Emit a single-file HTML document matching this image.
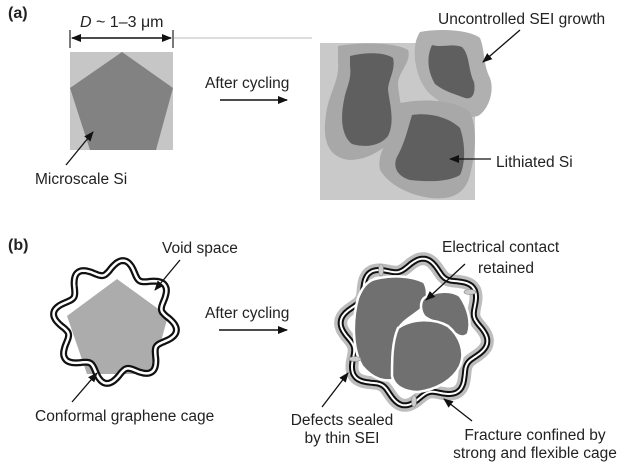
<!DOCTYPE html>
<html><head><meta charset="utf-8"><style>
html,body{margin:0;padding:0;background:#fff;}
svg{display:block;font-family:"Liberation Sans","DejaVu Sans",sans-serif;}
text{fill:#222;font-size:15.5px;}
</style></head><body>
<svg id="s" width="631" height="470" viewBox="0 0 631 470" xmlns="http://www.w3.org/2000/svg">
<defs>
<marker id="ah" markerWidth="10" markerHeight="8" refX="9" refY="4" orient="auto" markerUnits="userSpaceOnUse">
<path d="M0,0 L10,4 L0,8 z" fill="#111"/></marker>
<marker id="ahs" markerWidth="10" markerHeight="8" refX="1" refY="4" orient="auto" markerUnits="userSpaceOnUse">
<path d="M10,0 L0,4 L10,8 z" fill="#111"/></marker>
</defs>
<!-- (a) -->
<text x="8" y="18" style="font-weight:bold;font-size:16px">(a)</text>
<text x="80" y="27" style="font-size:16px"><tspan font-style="italic">D</tspan> ~ 1–3 μm</text>
<line x1="70" y1="30" x2="70" y2="48" stroke="#222" stroke-width="1.2"/>
<line x1="173" y1="30" x2="173" y2="48" stroke="#222" stroke-width="1.2"/>
<line x1="72" y1="38" x2="171" y2="38" stroke="#111" stroke-width="1.5" marker-start="url(#ahs)" marker-end="url(#ah)"/>
<line x1="174" y1="38" x2="312" y2="38" stroke="#bbb" stroke-width="1"/>
<rect x="70" y="52" width="103" height="98" fill="#c6c6c6"/>
<polygon points="122,52 173,88 156,150 90,150 70,88" fill="#828282"/>
<text x="205" y="88">After cycling</text>
<line x1="220" y1="100" x2="287" y2="100" stroke="#111" stroke-width="1.5" marker-end="url(#ah)"/>
<text x="35" y="184">Microscale Si</text>
<line x1="66" y1="165" x2="93" y2="132" stroke="#111" stroke-width="1.3" marker-end="url(#ah)"/>

<rect x="320" y="43" width="155" height="157" fill="#c9c9c9"/>
<path d="M338,46 C360,42 395,42 408,50 C412,62 398,72 398,84 C398,96 405,110 398,130 C392,145 370,160 350,160 C328,158 322,140 326,115 C328,95 340,80 338,62 Z" fill="#a8a8a8"/>
<path d="M350,56 C365,52 385,52 393,58 C396,70 388,80 388,90 C390,105 395,122 388,136 C380,146 366,148 352,144 C342,136 340,120 344,100 C346,88 352,80 350,66 Z" fill="#5f5f5f"/>
<path d="M420,32 C440,28 470,30 480,38 C485,50 483,65 490,78 C495,92 488,110 478,116 C462,120 450,112 438,100 C425,92 418,80 415,60 C414,46 416,38 420,32 Z" fill="#b0b0b0"/>
<path d="M432,45 C442,48 452,43 462,47 C470,55 468,70 474,82 C476,94 472,100 465,98 C455,94 445,92 435,84 C428,72 426,58 432,45 Z" fill="#5f5f5f"/>
<path d="M400,103 C425,98 455,100 470,112 C478,130 475,155 470,175 C465,195 450,200 430,198 C410,195 390,186 380,170 C376,150 392,140 392,125 C392,112 394,106 400,103 Z" fill="#a8a8a8"/>
<path d="M412,115 C430,112 450,118 460,128 C466,145 465,165 460,175 C448,182 430,182 410,180 C396,176 392,165 398,155 C405,142 408,128 412,115 Z" fill="#5f5f5f"/>
<text x="438" y="24">Uncontrolled SEI growth</text>
<line x1="520" y1="30" x2="483" y2="62" stroke="#111" stroke-width="1.3" marker-end="url(#ah)"/>
<text x="496" y="167">Lithiated Si</text>
<line x1="491" y1="159" x2="450" y2="159" stroke="#111" stroke-width="1.3" marker-end="url(#ah)"/>

<!-- (b) -->
<text x="8" y="250" style="font-weight:bold;font-size:16px">(b)</text>
<polygon points="117,279 168,316 152,374 87,374 67,316" fill="#acacac"/>
<g id="cageL"></g>
<text x="162" y="253">Void space</text>
<line x1="180" y1="260" x2="155" y2="290" stroke="#111" stroke-width="1.3" marker-end="url(#ah)"/>
<text x="205" y="318">After cycling</text>
<line x1="219" y1="330" x2="287" y2="330" stroke="#111" stroke-width="1.5" marker-end="url(#ah)"/>
<text x="35" y="421">Conformal graphene cage</text>
<line x1="72" y1="402" x2="97" y2="373" stroke="#111" stroke-width="1.3" marker-end="url(#ah)"/>

<g id="cageR"></g>
<g fill="#707070" stroke="#fff" stroke-width="2.5">
<path d="M372,280 C390,274 412,276 424,282 C430,292 426,304 420,310 C410,318 400,322 396,334 C392,350 398,365 398,378 C385,384 372,378 362,366 C352,348 352,320 358,298 C362,288 366,283 372,280 Z"/>
<path d="M424,298 C436,290 452,290 460,296 C468,308 472,322 468,334 C462,340 455,334 448,328 C440,322 430,322 424,316 C420,310 420,302 424,298 Z"/>
<path d="M398,328 C412,318 434,318 448,326 C460,336 466,352 460,366 C452,382 434,390 418,392 C404,392 394,386 392,376 C392,360 392,342 398,328 Z"/>
</g>
<text x="442" y="252">Electrical contact</text>
<text x="478" y="273">retained</text>
<line x1="465" y1="264" x2="426" y2="300" stroke="#111" stroke-width="1.3" marker-end="url(#ah)"/>
<text x="342" y="425" text-anchor="middle">Defects sealed</text>
<text x="342" y="443" text-anchor="middle">by thin SEI</text>
<line x1="322" y1="407" x2="348" y2="373" stroke="#111" stroke-width="1.3" marker-end="url(#ah)"/>
<text x="535" y="440" text-anchor="middle">Fracture confined by</text>
<text x="535" y="458" text-anchor="middle">strong and flexible cage</text>
<line x1="472" y1="421" x2="444" y2="399" stroke="#111" stroke-width="1.3" marker-end="url(#ah)"/>
<g fill="#ccc" stroke="#888" stroke-width="0.6">
<ellipse cx="381" cy="270" rx="2.5" ry="6"/>
<ellipse cx="470" cy="292" rx="6" ry="2.5"/>
<ellipse cx="355" cy="359" rx="6" ry="2.5"/>
<ellipse cx="414" cy="401" rx="2.5" ry="6"/>
</g>
</svg>
<script>
function wav(cx,cy,R,a,n,ph){var d="";for(var i=0;i<=240;i++){var t=i/240*2*Math.PI;var r=R+a*Math.sin(n*t+ph);var x=cx+r*Math.cos(t),y=cy+r*Math.sin(t);d+=(i?"L":"M")+x.toFixed(1)+","+y.toFixed(1);}return d+"Z";}
var NS="http://www.w3.org/2000/svg";
function p(g,d,st,w){var e=document.createElementNS(NS,"path");e.setAttribute("d",d);e.setAttribute("fill","none");e.setAttribute("stroke",st);e.setAttribute("stroke-width",w);e.setAttribute("stroke-linejoin","round");document.getElementById(g).appendChild(e);}
var dl=wav(115,322,55,7,8,0.4);
p("cageL",dl,"#111",7);p("cageL",dl,"#fff",2.5);
var dr=wav(414,332,68,6,8,0.4);
p("cageR",dr,"#bdbdbd",13);p("cageR",dr,"#111",6);p("cageR",dr,"#fff",2);
</script>
</body></html>
